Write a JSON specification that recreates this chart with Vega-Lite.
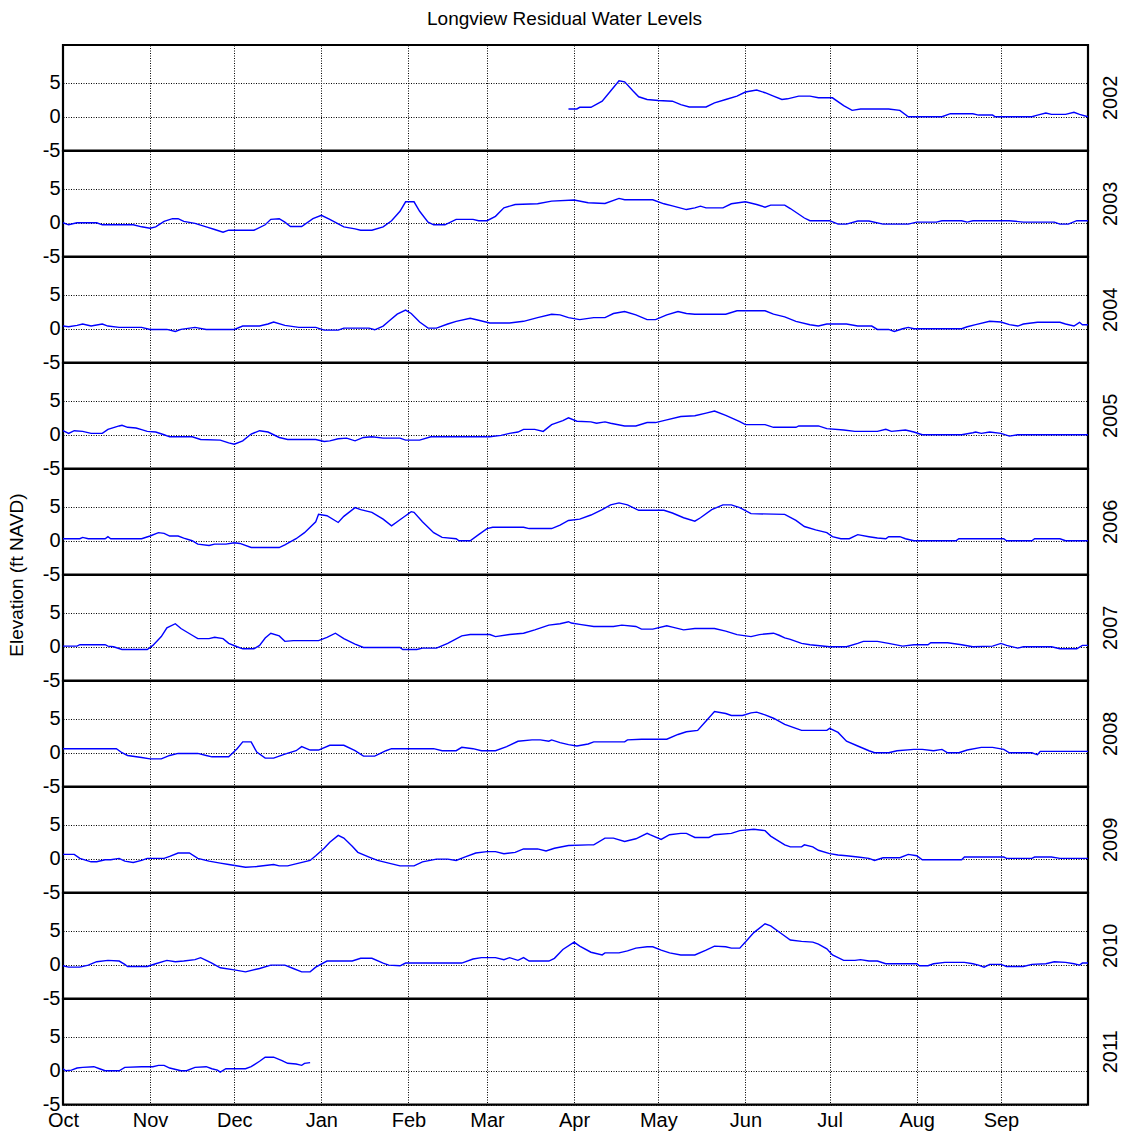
{
  "$schema": "https://vega.github.io/schema/vega-lite/v6.json",
  "background": "white",
  "padding": {"left": 7, "top": 9, "right": 2, "bottom": 2},
  "title": {"text": "Longview Residual Water Levels", "font": "Liberation Sans", "fontSize": 19, "fontWeight": "normal", "color": "black", "anchor": "middle", "offset": 15},
  "data": {"values": [
{"year":"2002","day":180,"value":1.15},{"year":"2002","day":183,"value":1.15},{"year":"2002","day":184,"value":1.4},{"year":"2002","day":188,"value":1.4},{"year":"2002","day":192,"value":2.3},{"year":"2002","day":195,"value":3.8},{"year":"2002","day":198,"value":5.3},{"year":"2002","day":200,"value":5.15},{"year":"2002","day":203,"value":3.8},{"year":"2002","day":205,"value":2.95},{"year":"2002","day":208,"value":2.55},{"year":"2002","day":212,"value":2.4},{"year":"2002","day":217,"value":2.3},{"year":"2002","day":220,"value":1.8},{"year":"2002","day":223,"value":1.45},{"year":"2002","day":229,"value":1.45},{"year":"2002","day":232,"value":2.05},{"year":"2002","day":236,"value":2.55},{"year":"2002","day":240,"value":3.05},{"year":"2002","day":243,"value":3.65},{"year":"2002","day":247,"value":3.95},{"year":"2002","day":250,"value":3.55},{"year":"2002","day":253,"value":3.05},{"year":"2002","day":256,"value":2.55},{"year":"2002","day":258,"value":2.65},{"year":"2002","day":262,"value":3.05},{"year":"2002","day":266,"value":3.05},{"year":"2002","day":269,"value":2.8},{"year":"2002","day":274,"value":2.8},{"year":"2002","day":278,"value":1.65},{"year":"2002","day":281,"value":0.95},{"year":"2002","day":284,"value":1.15},{"year":"2002","day":294,"value":1.15},{"year":"2002","day":298,"value":0.95},{"year":"2002","day":301,"value":0},{"year":"2002","day":313,"value":0},{"year":"2002","day":316,"value":0.45},{"year":"2002","day":324,"value":0.45},{"year":"2002","day":326,"value":0.25},{"year":"2002","day":331,"value":0.25},{"year":"2002","day":332,"value":0},{"year":"2002","day":345,"value":0},{"year":"2002","day":347,"value":0.25},{"year":"2002","day":350,"value":0.55},{"year":"2002","day":352,"value":0.35},{"year":"2002","day":357,"value":0.35},{"year":"2002","day":360,"value":0.65},{"year":"2002","day":362,"value":0.35},{"year":"2002","day":365,"value":0},
{"year":"2003","day":0,"value":0},{"year":"2003","day":2,"value":-0.3},{"year":"2003","day":5,"value":0},{"year":"2003","day":12,"value":0},{"year":"2003","day":14,"value":-0.3},{"year":"2003","day":25,"value":-0.3},{"year":"2003","day":28,"value":-0.6},{"year":"2003","day":31,"value":-0.8},{"year":"2003","day":33,"value":-0.6},{"year":"2003","day":36,"value":0.2},{"year":"2003","day":39,"value":0.6},{"year":"2003","day":41,"value":0.6},{"year":"2003","day":43,"value":0.2},{"year":"2003","day":47,"value":-0.1},{"year":"2003","day":51,"value":-0.6},{"year":"2003","day":54,"value":-1.0},{"year":"2003","day":57,"value":-1.4},{"year":"2003","day":59,"value":-1.1},{"year":"2003","day":68,"value":-1.1},{"year":"2003","day":72,"value":-0.3},{"year":"2003","day":74,"value":0.5},{"year":"2003","day":77,"value":0.6},{"year":"2003","day":79,"value":0.1},{"year":"2003","day":81,"value":-0.55},{"year":"2003","day":85,"value":-0.55},{"year":"2003","day":89,"value":0.6},{"year":"2003","day":92,"value":1.1},{"year":"2003","day":95,"value":0.5},{"year":"2003","day":100,"value":-0.6},{"year":"2003","day":104,"value":-0.9},{"year":"2003","day":106,"value":-1.1},{"year":"2003","day":110,"value":-1.1},{"year":"2003","day":114,"value":-0.6},{"year":"2003","day":117,"value":0.3},{"year":"2003","day":120,"value":1.7},{"year":"2003","day":122,"value":3.1},{"year":"2003","day":125,"value":3.1},{"year":"2003","day":127,"value":1.7},{"year":"2003","day":130,"value":0.1},{"year":"2003","day":132,"value":-0.3},{"year":"2003","day":136,"value":-0.3},{"year":"2003","day":140,"value":0.5},{"year":"2003","day":146,"value":0.5},{"year":"2003","day":148,"value":0.3},{"year":"2003","day":151,"value":0.3},{"year":"2003","day":154,"value":0.95},{"year":"2003","day":157,"value":2.2},{"year":"2003","day":161,"value":2.7},{"year":"2003","day":169,"value":2.8},{"year":"2003","day":174,"value":3.2},{"year":"2003","day":182,"value":3.35},{"year":"2003","day":187,"value":2.95},{"year":"2003","day":193,"value":2.85},{"year":"2003","day":198,"value":3.6},{"year":"2003","day":200,"value":3.4},{"year":"2003","day":210,"value":3.4},{"year":"2003","day":214,"value":2.8},{"year":"2003","day":217,"value":2.5},{"year":"2003","day":222,"value":1.95},{"year":"2003","day":225,"value":2.2},{"year":"2003","day":227,"value":2.45},{"year":"2003","day":229,"value":2.2},{"year":"2003","day":235,"value":2.2},{"year":"2003","day":238,"value":2.8},{"year":"2003","day":243,"value":3.1},{"year":"2003","day":247,"value":2.7},{"year":"2003","day":250,"value":2.3},{"year":"2003","day":252,"value":2.6},{"year":"2003","day":257,"value":2.6},{"year":"2003","day":259,"value":2.1},{"year":"2003","day":264,"value":0.7},{"year":"2003","day":266,"value":0.3},{"year":"2003","day":273,"value":0.3},{"year":"2003","day":276,"value":-0.2},{"year":"2003","day":279,"value":-0.2},{"year":"2003","day":283,"value":0.25},{"year":"2003","day":287,"value":0.25},{"year":"2003","day":292,"value":-0.2},{"year":"2003","day":301,"value":-0.2},{"year":"2003","day":304,"value":0.1},{"year":"2003","day":311,"value":0.1},{"year":"2003","day":313,"value":0.3},{"year":"2003","day":320,"value":0.3},{"year":"2003","day":322,"value":0.1},{"year":"2003","day":324,"value":0.3},{"year":"2003","day":337,"value":0.3},{"year":"2003","day":342,"value":0.1},{"year":"2003","day":353,"value":0.1},{"year":"2003","day":355,"value":-0.2},{"year":"2003","day":358,"value":-0.2},{"year":"2003","day":361,"value":0.3},{"year":"2003","day":365,"value":0.3},
{"year":"2004","day":0,"value":0.4},{"year":"2004","day":2,"value":0.3},{"year":"2004","day":5,"value":0.5},{"year":"2004","day":7,"value":0.7},{"year":"2004","day":10,"value":0.4},{"year":"2004","day":14,"value":0.7},{"year":"2004","day":16,"value":0.4},{"year":"2004","day":20,"value":0.2},{"year":"2004","day":28,"value":0.2},{"year":"2004","day":31,"value":-0.1},{"year":"2004","day":37,"value":-0.1},{"year":"2004","day":40,"value":-0.4},{"year":"2004","day":42,"value":-0.1},{"year":"2004","day":47,"value":0.2},{"year":"2004","day":51,"value":-0.1},{"year":"2004","day":61,"value":-0.1},{"year":"2004","day":64,"value":0.4},{"year":"2004","day":70,"value":0.4},{"year":"2004","day":73,"value":0.7},{"year":"2004","day":75,"value":1.0},{"year":"2004","day":79,"value":0.5},{"year":"2004","day":84,"value":0.2},{"year":"2004","day":90,"value":0.2},{"year":"2004","day":93,"value":-0.2},{"year":"2004","day":98,"value":-0.2},{"year":"2004","day":100,"value":0.1},{"year":"2004","day":109,"value":0.1},{"year":"2004","day":111,"value":-0.15},{"year":"2004","day":114,"value":0.4},{"year":"2004","day":116,"value":1.1},{"year":"2004","day":119,"value":2.15},{"year":"2004","day":122,"value":2.75},{"year":"2004","day":124,"value":2.25},{"year":"2004","day":127,"value":1.0},{"year":"2004","day":130,"value":0.1},{"year":"2004","day":133,"value":0.1},{"year":"2004","day":137,"value":0.7},{"year":"2004","day":140,"value":1.1},{"year":"2004","day":145,"value":1.55},{"year":"2004","day":148,"value":1.25},{"year":"2004","day":152,"value":0.85},{"year":"2004","day":159,"value":0.85},{"year":"2004","day":164,"value":1.1},{"year":"2004","day":169,"value":1.65},{"year":"2004","day":174,"value":2.15},{"year":"2004","day":177,"value":2.05},{"year":"2004","day":180,"value":1.65},{"year":"2004","day":184,"value":1.35},{"year":"2004","day":189,"value":1.65},{"year":"2004","day":193,"value":1.65},{"year":"2004","day":196,"value":2.25},{"year":"2004","day":200,"value":2.55},{"year":"2004","day":204,"value":2.05},{"year":"2004","day":208,"value":1.35},{"year":"2004","day":211,"value":1.35},{"year":"2004","day":215,"value":2.05},{"year":"2004","day":219,"value":2.55},{"year":"2004","day":222,"value":2.25},{"year":"2004","day":225,"value":2.15},{"year":"2004","day":236,"value":2.15},{"year":"2004","day":240,"value":2.65},{"year":"2004","day":250,"value":2.65},{"year":"2004","day":253,"value":2.15},{"year":"2004","day":257,"value":1.75},{"year":"2004","day":261,"value":1.1},{"year":"2004","day":266,"value":0.6},{"year":"2004","day":269,"value":0.4},{"year":"2004","day":272,"value":0.7},{"year":"2004","day":279,"value":0.7},{"year":"2004","day":283,"value":0.4},{"year":"2004","day":288,"value":0.4},{"year":"2004","day":290,"value":-0.1},{"year":"2004","day":294,"value":-0.1},{"year":"2004","day":296,"value":-0.4},{"year":"2004","day":299,"value":0},{"year":"2004","day":301,"value":0.2},{"year":"2004","day":303,"value":0},{"year":"2004","day":320,"value":0},{"year":"2004","day":322,"value":0.3},{"year":"2004","day":325,"value":0.6},{"year":"2004","day":330,"value":1.1},{"year":"2004","day":334,"value":1.0},{"year":"2004","day":337,"value":0.6},{"year":"2004","day":340,"value":0.4},{"year":"2004","day":342,"value":0.7},{"year":"2004","day":347,"value":0.95},{"year":"2004","day":355,"value":0.95},{"year":"2004","day":357,"value":0.7},{"year":"2004","day":360,"value":0.4},{"year":"2004","day":362,"value":0.95},{"year":"2004","day":363,"value":0.6},{"year":"2004","day":365,"value":0.6},
{"year":"2005","day":0,"value":0.6},{"year":"2005","day":2,"value":0.2},{"year":"2005","day":4,"value":0.6},{"year":"2005","day":7,"value":0.5},{"year":"2005","day":10,"value":0.2},{"year":"2005","day":14,"value":0.2},{"year":"2005","day":16,"value":0.8},{"year":"2005","day":20,"value":1.3},{"year":"2005","day":21,"value":1.4},{"year":"2005","day":23,"value":1.1},{"year":"2005","day":26,"value":1.0},{"year":"2005","day":28,"value":0.75},{"year":"2005","day":30,"value":0.5},{"year":"2005","day":33,"value":0.4},{"year":"2005","day":36,"value":0},{"year":"2005","day":38,"value":-0.3},{"year":"2005","day":46,"value":-0.3},{"year":"2005","day":49,"value":-0.7},{"year":"2005","day":56,"value":-0.8},{"year":"2005","day":59,"value":-1.2},{"year":"2005","day":61,"value":-1.4},{"year":"2005","day":64,"value":-0.9},{"year":"2005","day":67,"value":0.1},{"year":"2005","day":70,"value":0.6},{"year":"2005","day":73,"value":0.4},{"year":"2005","day":77,"value":-0.4},{"year":"2005","day":80,"value":-0.7},{"year":"2005","day":90,"value":-0.7},{"year":"2005","day":93,"value":-1.0},{"year":"2005","day":95,"value":-0.9},{"year":"2005","day":98,"value":-0.6},{"year":"2005","day":101,"value":-0.5},{"year":"2005","day":104,"value":-0.9},{"year":"2005","day":107,"value":-0.4},{"year":"2005","day":110,"value":-0.3},{"year":"2005","day":114,"value":-0.5},{"year":"2005","day":120,"value":-0.5},{"year":"2005","day":122,"value":-0.8},{"year":"2005","day":127,"value":-0.8},{"year":"2005","day":131,"value":-0.3},{"year":"2005","day":152,"value":-0.3},{"year":"2005","day":156,"value":-0.1},{"year":"2005","day":159,"value":0.2},{"year":"2005","day":162,"value":0.4},{"year":"2005","day":164,"value":0.8},{"year":"2005","day":168,"value":0.8},{"year":"2005","day":171,"value":0.5},{"year":"2005","day":174,"value":1.5},{"year":"2005","day":178,"value":2.1},{"year":"2005","day":180,"value":2.5},{"year":"2005","day":183,"value":2.0},{"year":"2005","day":188,"value":1.9},{"year":"2005","day":190,"value":1.7},{"year":"2005","day":193,"value":1.9},{"year":"2005","day":195,"value":1.7},{"year":"2005","day":200,"value":1.3},{"year":"2005","day":204,"value":1.3},{"year":"2005","day":208,"value":1.8},{"year":"2005","day":211,"value":1.8},{"year":"2005","day":215,"value":2.2},{"year":"2005","day":220,"value":2.7},{"year":"2005","day":225,"value":2.8},{"year":"2005","day":229,"value":3.2},{"year":"2005","day":232,"value":3.5},{"year":"2005","day":236,"value":2.85},{"year":"2005","day":241,"value":1.95},{"year":"2005","day":243,"value":1.5},{"year":"2005","day":250,"value":1.5},{"year":"2005","day":253,"value":1.1},{"year":"2005","day":261,"value":1.1},{"year":"2005","day":262,"value":1.3},{"year":"2005","day":269,"value":1.3},{"year":"2005","day":272,"value":0.9},{"year":"2005","day":278,"value":0.7},{"year":"2005","day":282,"value":0.5},{"year":"2005","day":290,"value":0.5},{"year":"2005","day":293,"value":0.8},{"year":"2005","day":295,"value":0.5},{"year":"2005","day":300,"value":0.7},{"year":"2005","day":303,"value":0.4},{"year":"2005","day":306,"value":0},{"year":"2005","day":320,"value":0},{"year":"2005","day":324,"value":0.3},{"year":"2005","day":325,"value":0.4},{"year":"2005","day":327,"value":0.2},{"year":"2005","day":330,"value":0.4},{"year":"2005","day":334,"value":0.2},{"year":"2005","day":337,"value":-0.2},{"year":"2005","day":340,"value":0},{"year":"2005","day":365,"value":0},
{"year":"2006","day":0,"value":0.3},{"year":"2006","day":6,"value":0.3},{"year":"2006","day":7,"value":0.5},{"year":"2006","day":9,"value":0.3},{"year":"2006","day":15,"value":0.3},{"year":"2006","day":16,"value":0.6},{"year":"2006","day":17,"value":0.3},{"year":"2006","day":28,"value":0.3},{"year":"2006","day":31,"value":0.7},{"year":"2006","day":34,"value":1.2},{"year":"2006","day":36,"value":1.1},{"year":"2006","day":38,"value":0.7},{"year":"2006","day":41,"value":0.7},{"year":"2006","day":43,"value":0.4},{"year":"2006","day":46,"value":0},{"year":"2006","day":48,"value":-0.5},{"year":"2006","day":52,"value":-0.7},{"year":"2006","day":54,"value":-0.5},{"year":"2006","day":58,"value":-0.5},{"year":"2006","day":61,"value":-0.3},{"year":"2006","day":63,"value":-0.4},{"year":"2006","day":67,"value":-1.0},{"year":"2006","day":77,"value":-1.0},{"year":"2006","day":79,"value":-0.6},{"year":"2006","day":83,"value":0.3},{"year":"2006","day":86,"value":1.2},{"year":"2006","day":90,"value":2.8},{"year":"2006","day":91,"value":3.9},{"year":"2006","day":94,"value":3.7},{"year":"2006","day":98,"value":2.7},{"year":"2006","day":100,"value":3.6},{"year":"2006","day":104,"value":4.9},{"year":"2006","day":106,"value":4.6},{"year":"2006","day":110,"value":4.2},{"year":"2006","day":114,"value":3.2},{"year":"2006","day":117,"value":2.2},{"year":"2006","day":120,"value":3.1},{"year":"2006","day":124,"value":4.3},{"year":"2006","day":125,"value":4.2},{"year":"2006","day":128,"value":2.8},{"year":"2006","day":132,"value":1.2},{"year":"2006","day":135,"value":0.5},{"year":"2006","day":140,"value":0.3},{"year":"2006","day":141,"value":0},{"year":"2006","day":145,"value":0},{"year":"2006","day":148,"value":0.9},{"year":"2006","day":151,"value":1.8},{"year":"2006","day":153,"value":2.0},{"year":"2006","day":164,"value":2.0},{"year":"2006","day":166,"value":1.8},{"year":"2006","day":174,"value":1.8},{"year":"2006","day":177,"value":2.3},{"year":"2006","day":180,"value":3.0},{"year":"2006","day":184,"value":3.2},{"year":"2006","day":188,"value":3.8},{"year":"2006","day":192,"value":4.6},{"year":"2006","day":195,"value":5.3},{"year":"2006","day":198,"value":5.6},{"year":"2006","day":201,"value":5.3},{"year":"2006","day":205,"value":4.5},{"year":"2006","day":214,"value":4.5},{"year":"2006","day":217,"value":4.1},{"year":"2006","day":221,"value":3.4},{"year":"2006","day":225,"value":2.9},{"year":"2006","day":227,"value":3.4},{"year":"2006","day":231,"value":4.6},{"year":"2006","day":235,"value":5.3},{"year":"2006","day":238,"value":5.3},{"year":"2006","day":241,"value":4.9},{"year":"2006","day":245,"value":4.0},{"year":"2006","day":257,"value":3.9},{"year":"2006","day":261,"value":3.0},{"year":"2006","day":264,"value":2.1},{"year":"2006","day":268,"value":1.6},{"year":"2006","day":272,"value":1.2},{"year":"2006","day":274,"value":0.6},{"year":"2006","day":277,"value":0.3},{"year":"2006","day":280,"value":0.3},{"year":"2006","day":283,"value":0.9},{"year":"2006","day":287,"value":0.6},{"year":"2006","day":290,"value":0.4},{"year":"2006","day":293,"value":0.3},{"year":"2006","day":294,"value":0.6},{"year":"2006","day":298,"value":0.6},{"year":"2006","day":300,"value":0.3},{"year":"2006","day":303,"value":0},{"year":"2006","day":318,"value":0},{"year":"2006","day":319,"value":0.3},{"year":"2006","day":335,"value":0.3},{"year":"2006","day":336,"value":0},{"year":"2006","day":345,"value":0},{"year":"2006","day":346,"value":0.3},{"year":"2006","day":355,"value":0.3},{"year":"2006","day":357,"value":0},{"year":"2006","day":365,"value":0},
{"year":"2007","day":0,"value":0.1},{"year":"2007","day":5,"value":0.1},{"year":"2007","day":6,"value":0.3},{"year":"2007","day":15,"value":0.3},{"year":"2007","day":16,"value":0.1},{"year":"2007","day":18,"value":0},{"year":"2007","day":21,"value":-0.4},{"year":"2007","day":30,"value":-0.4},{"year":"2007","day":32,"value":0.2},{"year":"2007","day":35,"value":1.5},{"year":"2007","day":37,"value":2.8},{"year":"2007","day":40,"value":3.4},{"year":"2007","day":42,"value":2.7},{"year":"2007","day":46,"value":1.7},{"year":"2007","day":48,"value":1.2},{"year":"2007","day":52,"value":1.2},{"year":"2007","day":54,"value":1.4},{"year":"2007","day":57,"value":1.2},{"year":"2007","day":59,"value":0.5},{"year":"2007","day":62,"value":0},{"year":"2007","day":64,"value":-0.3},{"year":"2007","day":68,"value":-0.3},{"year":"2007","day":70,"value":0.2},{"year":"2007","day":72,"value":1.3},{"year":"2007","day":74,"value":2.0},{"year":"2007","day":77,"value":1.6},{"year":"2007","day":79,"value":0.8},{"year":"2007","day":82,"value":0.9},{"year":"2007","day":91,"value":0.9},{"year":"2007","day":94,"value":1.4},{"year":"2007","day":97,"value":2.0},{"year":"2007","day":100,"value":1.2},{"year":"2007","day":104,"value":0.4},{"year":"2007","day":107,"value":-0.1},{"year":"2007","day":120,"value":-0.1},{"year":"2007","day":121,"value":-0.4},{"year":"2007","day":126,"value":-0.4},{"year":"2007","day":128,"value":-0.2},{"year":"2007","day":133,"value":-0.2},{"year":"2007","day":137,"value":0.5},{"year":"2007","day":142,"value":1.6},{"year":"2007","day":145,"value":1.8},{"year":"2007","day":152,"value":1.8},{"year":"2007","day":154,"value":1.5},{"year":"2007","day":159,"value":1.8},{"year":"2007","day":164,"value":2.0},{"year":"2007","day":168,"value":2.5},{"year":"2007","day":173,"value":3.2},{"year":"2007","day":177,"value":3.4},{"year":"2007","day":180,"value":3.7},{"year":"2007","day":181,"value":3.5},{"year":"2007","day":184,"value":3.3},{"year":"2007","day":189,"value":3.0},{"year":"2007","day":196,"value":3.0},{"year":"2007","day":199,"value":3.2},{"year":"2007","day":204,"value":3.0},{"year":"2007","day":206,"value":2.6},{"year":"2007","day":210,"value":2.6},{"year":"2007","day":215,"value":3.1},{"year":"2007","day":217,"value":2.9},{"year":"2007","day":221,"value":2.5},{"year":"2007","day":225,"value":2.7},{"year":"2007","day":232,"value":2.7},{"year":"2007","day":236,"value":2.3},{"year":"2007","day":240,"value":1.8},{"year":"2007","day":245,"value":1.5},{"year":"2007","day":248,"value":1.8},{"year":"2007","day":253,"value":2.0},{"year":"2007","day":255,"value":1.7},{"year":"2007","day":257,"value":1.3},{"year":"2007","day":259,"value":1.1},{"year":"2007","day":263,"value":0.5},{"year":"2007","day":266,"value":0.3},{"year":"2007","day":273,"value":0},{"year":"2007","day":279,"value":0},{"year":"2007","day":283,"value":0.5},{"year":"2007","day":285,"value":0.8},{"year":"2007","day":290,"value":0.8},{"year":"2007","day":294,"value":0.5},{"year":"2007","day":299,"value":0.1},{"year":"2007","day":303,"value":0.3},{"year":"2007","day":308,"value":0.3},{"year":"2007","day":309,"value":0.6},{"year":"2007","day":315,"value":0.6},{"year":"2007","day":320,"value":0.3},{"year":"2007","day":324,"value":0},{"year":"2007","day":331,"value":0.1},{"year":"2007","day":334,"value":0.5},{"year":"2007","day":336,"value":0.2},{"year":"2007","day":340,"value":-0.2},{"year":"2007","day":342,"value":0},{"year":"2007","day":352,"value":0},{"year":"2007","day":355,"value":-0.3},{"year":"2007","day":361,"value":-0.3},{"year":"2007","day":363,"value":0.2},{"year":"2007","day":365,"value":0.2},
{"year":"2008","day":0,"value":0.6},{"year":"2008","day":19,"value":0.6},{"year":"2008","day":21,"value":0},{"year":"2008","day":23,"value":-0.4},{"year":"2008","day":28,"value":-0.7},{"year":"2008","day":31,"value":-0.9},{"year":"2008","day":35,"value":-0.9},{"year":"2008","day":38,"value":-0.4},{"year":"2008","day":41,"value":-0.1},{"year":"2008","day":48,"value":-0.1},{"year":"2008","day":51,"value":-0.4},{"year":"2008","day":53,"value":-0.6},{"year":"2008","day":59,"value":-0.6},{"year":"2008","day":62,"value":0.6},{"year":"2008","day":64,"value":1.6},{"year":"2008","day":67,"value":1.6},{"year":"2008","day":69,"value":0.1},{"year":"2008","day":72,"value":-0.8},{"year":"2008","day":75,"value":-0.8},{"year":"2008","day":79,"value":-0.2},{"year":"2008","day":83,"value":0.3},{"year":"2008","day":85,"value":0.9},{"year":"2008","day":88,"value":0.4},{"year":"2008","day":91,"value":0.4},{"year":"2008","day":95,"value":1.1},{"year":"2008","day":100,"value":1.1},{"year":"2008","day":104,"value":0.3},{"year":"2008","day":107,"value":-0.5},{"year":"2008","day":111,"value":-0.5},{"year":"2008","day":115,"value":0.3},{"year":"2008","day":117,"value":0.6},{"year":"2008","day":132,"value":0.6},{"year":"2008","day":135,"value":0.3},{"year":"2008","day":140,"value":0.3},{"year":"2008","day":142,"value":0.8},{"year":"2008","day":146,"value":0.6},{"year":"2008","day":149,"value":0.3},{"year":"2008","day":154,"value":0.3},{"year":"2008","day":158,"value":0.9},{"year":"2008","day":162,"value":1.7},{"year":"2008","day":167,"value":1.9},{"year":"2008","day":170,"value":1.9},{"year":"2008","day":173,"value":1.7},{"year":"2008","day":174,"value":1.9},{"year":"2008","day":177,"value":1.5},{"year":"2008","day":180,"value":1.2},{"year":"2008","day":183,"value":1.0},{"year":"2008","day":187,"value":1.3},{"year":"2008","day":189,"value":1.6},{"year":"2008","day":200,"value":1.6},{"year":"2008","day":201,"value":1.9},{"year":"2008","day":206,"value":2.0},{"year":"2008","day":215,"value":2.0},{"year":"2008","day":219,"value":2.7},{"year":"2008","day":222,"value":3.1},{"year":"2008","day":226,"value":3.3},{"year":"2008","day":229,"value":4.7},{"year":"2008","day":232,"value":6.1},{"year":"2008","day":236,"value":5.8},{"year":"2008","day":238,"value":5.5},{"year":"2008","day":242,"value":5.5},{"year":"2008","day":245,"value":5.9},{"year":"2008","day":247,"value":6.0},{"year":"2008","day":250,"value":5.6},{"year":"2008","day":253,"value":5.1},{"year":"2008","day":257,"value":4.2},{"year":"2008","day":261,"value":3.6},{"year":"2008","day":263,"value":3.3},{"year":"2008","day":272,"value":3.3},{"year":"2008","day":273,"value":3.6},{"year":"2008","day":276,"value":3.0},{"year":"2008","day":279,"value":1.7},{"year":"2008","day":283,"value":1.0},{"year":"2008","day":287,"value":0.3},{"year":"2008","day":289,"value":0},{"year":"2008","day":294,"value":0},{"year":"2008","day":297,"value":0.3},{"year":"2008","day":303,"value":0.5},{"year":"2008","day":306,"value":0.5},{"year":"2008","day":310,"value":0.3},{"year":"2008","day":313,"value":0.5},{"year":"2008","day":315,"value":0},{"year":"2008","day":319,"value":0},{"year":"2008","day":322,"value":0.4},{"year":"2008","day":327,"value":0.8},{"year":"2008","day":331,"value":0.8},{"year":"2008","day":335,"value":0.5},{"year":"2008","day":337,"value":0},{"year":"2008","day":345,"value":0},{"year":"2008","day":347,"value":-0.3},{"year":"2008","day":348,"value":0.2},{"year":"2008","day":365,"value":0.2},
{"year":"2009","day":0,"value":0.65},{"year":"2009","day":4,"value":0.65},{"year":"2009","day":6,"value":0.05},{"year":"2009","day":10,"value":-0.45},{"year":"2009","day":12,"value":-0.45},{"year":"2009","day":15,"value":-0.15},{"year":"2009","day":17,"value":-0.15},{"year":"2009","day":20,"value":0.05},{"year":"2009","day":22,"value":-0.35},{"year":"2009","day":25,"value":-0.55},{"year":"2009","day":28,"value":-0.25},{"year":"2009","day":30,"value":0.05},{"year":"2009","day":36,"value":0.05},{"year":"2009","day":38,"value":0.35},{"year":"2009","day":41,"value":0.85},{"year":"2009","day":45,"value":0.85},{"year":"2009","day":48,"value":0.05},{"year":"2009","day":52,"value":-0.35},{"year":"2009","day":56,"value":-0.65},{"year":"2009","day":59,"value":-0.85},{"year":"2009","day":65,"value":-1.25},{"year":"2009","day":69,"value":-1.15},{"year":"2009","day":75,"value":-0.85},{"year":"2009","day":77,"value":-1.05},{"year":"2009","day":80,"value":-1.05},{"year":"2009","day":84,"value":-0.65},{"year":"2009","day":88,"value":-0.25},{"year":"2009","day":90,"value":0.45},{"year":"2009","day":93,"value":1.55},{"year":"2009","day":95,"value":2.45},{"year":"2009","day":98,"value":3.45},{"year":"2009","day":100,"value":3.05},{"year":"2009","day":103,"value":1.85},{"year":"2009","day":105,"value":0.95},{"year":"2009","day":109,"value":0.25},{"year":"2009","day":112,"value":-0.25},{"year":"2009","day":116,"value":-0.65},{"year":"2009","day":120,"value":-1.05},{"year":"2009","day":125,"value":-1.05},{"year":"2009","day":128,"value":-0.45},{"year":"2009","day":133,"value":-0.05},{"year":"2009","day":137,"value":-0.05},{"year":"2009","day":140,"value":-0.25},{"year":"2009","day":143,"value":0.25},{"year":"2009","day":147,"value":0.85},{"year":"2009","day":151,"value":1.05},{"year":"2009","day":154,"value":1.05},{"year":"2009","day":157,"value":0.75},{"year":"2009","day":161,"value":0.95},{"year":"2009","day":164,"value":1.45},{"year":"2009","day":169,"value":1.45},{"year":"2009","day":172,"value":1.15},{"year":"2009","day":175,"value":1.55},{"year":"2009","day":180,"value":1.95},{"year":"2009","day":187,"value":2.05},{"year":"2009","day":189,"value":2.05},{"year":"2009","day":193,"value":3.05},{"year":"2009","day":196,"value":3.05},{"year":"2009","day":200,"value":2.55},{"year":"2009","day":204,"value":2.95},{"year":"2009","day":208,"value":3.75},{"year":"2009","day":209,"value":3.55},{"year":"2009","day":213,"value":2.85},{"year":"2009","day":216,"value":3.55},{"year":"2009","day":220,"value":3.75},{"year":"2009","day":222,"value":3.75},{"year":"2009","day":225,"value":3.15},{"year":"2009","day":230,"value":3.15},{"year":"2009","day":232,"value":3.55},{"year":"2009","day":238,"value":3.75},{"year":"2009","day":241,"value":4.15},{"year":"2009","day":246,"value":4.35},{"year":"2009","day":250,"value":4.15},{"year":"2009","day":252,"value":3.35},{"year":"2009","day":257,"value":2.05},{"year":"2009","day":259,"value":1.75},{"year":"2009","day":263,"value":1.75},{"year":"2009","day":264,"value":2.05},{"year":"2009","day":267,"value":1.75},{"year":"2009","day":269,"value":1.25},{"year":"2009","day":273,"value":0.75},{"year":"2009","day":276,"value":0.55},{"year":"2009","day":279,"value":0.45},{"year":"2009","day":283,"value":0.25},{"year":"2009","day":287,"value":0.05},{"year":"2009","day":289,"value":-0.25},{"year":"2009","day":292,"value":0.15},{"year":"2009","day":298,"value":0.15},{"year":"2009","day":301,"value":0.65},{"year":"2009","day":304,"value":0.45},{"year":"2009","day":306,"value":-0.15},{"year":"2009","day":320,"value":-0.15},{"year":"2009","day":321,"value":0.25},{"year":"2009","day":335,"value":0.25},{"year":"2009","day":336,"value":0.05},{"year":"2009","day":345,"value":0.05},{"year":"2009","day":346,"value":0.25},{"year":"2009","day":352,"value":0.25},{"year":"2009","day":355,"value":0.05},{"year":"2009","day":365,"value":0.05},
{"year":"2010","day":0,"value":-0.15},{"year":"2010","day":2,"value":-0.35},{"year":"2010","day":6,"value":-0.35},{"year":"2010","day":9,"value":-0.05},{"year":"2010","day":12,"value":0.45},{"year":"2010","day":16,"value":0.65},{"year":"2010","day":20,"value":0.55},{"year":"2010","day":22,"value":0.05},{"year":"2010","day":23,"value":-0.25},{"year":"2010","day":30,"value":-0.25},{"year":"2010","day":33,"value":0.15},{"year":"2010","day":37,"value":0.65},{"year":"2010","day":40,"value":0.45},{"year":"2010","day":43,"value":0.55},{"year":"2010","day":47,"value":0.75},{"year":"2010","day":49,"value":1.05},{"year":"2010","day":51,"value":0.65},{"year":"2010","day":53,"value":0.25},{"year":"2010","day":56,"value":-0.45},{"year":"2010","day":61,"value":-0.75},{"year":"2010","day":65,"value":-1.05},{"year":"2010","day":70,"value":-0.55},{"year":"2010","day":74,"value":-0.05},{"year":"2010","day":79,"value":-0.05},{"year":"2010","day":82,"value":-0.55},{"year":"2010","day":85,"value":-1.05},{"year":"2010","day":88,"value":-1.05},{"year":"2010","day":90,"value":-0.35},{"year":"2010","day":94,"value":0.55},{"year":"2010","day":103,"value":0.55},{"year":"2010","day":106,"value":0.95},{"year":"2010","day":110,"value":0.95},{"year":"2010","day":114,"value":0.25},{"year":"2010","day":116,"value":-0.05},{"year":"2010","day":120,"value":-0.15},{"year":"2010","day":122,"value":0.25},{"year":"2010","day":142,"value":0.25},{"year":"2010","day":146,"value":0.85},{"year":"2010","day":149,"value":1.05},{"year":"2010","day":154,"value":1.05},{"year":"2010","day":157,"value":0.75},{"year":"2010","day":159,"value":1.05},{"year":"2010","day":162,"value":0.65},{"year":"2010","day":164,"value":1.05},{"year":"2010","day":166,"value":0.55},{"year":"2010","day":173,"value":0.55},{"year":"2010","day":175,"value":0.95},{"year":"2010","day":178,"value":2.25},{"year":"2010","day":182,"value":3.35},{"year":"2010","day":184,"value":2.75},{"year":"2010","day":188,"value":1.85},{"year":"2010","day":192,"value":1.45},{"year":"2010","day":193,"value":1.75},{"year":"2010","day":198,"value":1.75},{"year":"2010","day":201,"value":2.05},{"year":"2010","day":204,"value":2.45},{"year":"2010","day":208,"value":2.65},{"year":"2010","day":210,"value":2.65},{"year":"2010","day":213,"value":2.15},{"year":"2010","day":216,"value":1.75},{"year":"2010","day":220,"value":1.45},{"year":"2010","day":225,"value":1.45},{"year":"2010","day":229,"value":2.15},{"year":"2010","day":232,"value":2.75},{"year":"2010","day":236,"value":2.65},{"year":"2010","day":238,"value":2.45},{"year":"2010","day":241,"value":2.45},{"year":"2010","day":243,"value":3.35},{"year":"2010","day":246,"value":4.75},{"year":"2010","day":250,"value":6.05},{"year":"2010","day":252,"value":5.75},{"year":"2010","day":256,"value":4.55},{"year":"2010","day":259,"value":3.65},{"year":"2010","day":263,"value":3.45},{"year":"2010","day":267,"value":3.35},{"year":"2010","day":269,"value":3.05},{"year":"2010","day":272,"value":2.35},{"year":"2010","day":274,"value":1.45},{"year":"2010","day":278,"value":0.65},{"year":"2010","day":282,"value":0.65},{"year":"2010","day":284,"value":0.75},{"year":"2010","day":287,"value":0.55},{"year":"2010","day":290,"value":0.55},{"year":"2010","day":293,"value":0.15},{"year":"2010","day":304,"value":0.15},{"year":"2010","day":305,"value":-0.15},{"year":"2010","day":308,"value":-0.15},{"year":"2010","day":310,"value":0.15},{"year":"2010","day":314,"value":0.35},{"year":"2010","day":321,"value":0.35},{"year":"2010","day":324,"value":0.15},{"year":"2010","day":326,"value":-0.05},{"year":"2010","day":328,"value":-0.35},{"year":"2010","day":330,"value":0.05},{"year":"2010","day":334,"value":0.05},{"year":"2010","day":336,"value":-0.25},{"year":"2010","day":342,"value":-0.25},{"year":"2010","day":345,"value":0.05},{"year":"2010","day":350,"value":0.15},{"year":"2010","day":353,"value":0.45},{"year":"2010","day":357,"value":0.35},{"year":"2010","day":360,"value":0.15},{"year":"2010","day":362,"value":-0.05},{"year":"2010","day":363,"value":0.25},{"year":"2010","day":365,"value":0.25},
{"year":"2011","day":0,"value":0.3},{"year":"2011","day":1,"value":0},{"year":"2011","day":3,"value":0.1},{"year":"2011","day":5,"value":0.4},{"year":"2011","day":7,"value":0.5},{"year":"2011","day":11,"value":0.6},{"year":"2011","day":13,"value":0.3},{"year":"2011","day":15,"value":0},{"year":"2011","day":20,"value":0},{"year":"2011","day":22,"value":0.5},{"year":"2011","day":28,"value":0.6},{"year":"2011","day":32,"value":0.6},{"year":"2011","day":34,"value":0.8},{"year":"2011","day":36,"value":0.8},{"year":"2011","day":38,"value":0.4},{"year":"2011","day":42,"value":0},{"year":"2011","day":44,"value":0},{"year":"2011","day":47,"value":0.5},{"year":"2011","day":51,"value":0.6},{"year":"2011","day":53,"value":0.3},{"year":"2011","day":55,"value":0.1},{"year":"2011","day":56,"value":-0.2},{"year":"2011","day":58,"value":0.3},{"year":"2011","day":65,"value":0.3},{"year":"2011","day":67,"value":0.6},{"year":"2011","day":70,"value":1.4},{"year":"2011","day":72,"value":2.0},{"year":"2011","day":75,"value":2.0},{"year":"2011","day":78,"value":1.5},{"year":"2011","day":80,"value":1.1},{"year":"2011","day":83,"value":1.0},{"year":"2011","day":85,"value":0.8},{"year":"2011","day":86,"value":1.1},{"year":"2011","day":88,"value":1.2}
  ]},
  "spacing": 0,
  "bounds": "flush",
  "facet": {
    "row": {
      "field": "year", "type": "nominal",
      "header": {
        "title": "Elevation (ft NAVD)", "titleOrient": "left", "titleAngle": -90, "titleFont": "Liberation Sans", "titleFontSize": 19, "titleFontWeight": "normal", "titleColor": "black", "titlePadding": -14,
        "labelOrient": "right", "labelAngle": -90, "labelFont": "Liberation Sans", "labelFontSize": 20, "labelColor": "black", "labelPadding": 3, "labelAlign": "center", "labelBaseline": "middle"
      }
    }
  },
  "spec": {
    "width": 1025,
    "height": 105.6,
    "mark": {"type": "line", "color": "#0000ff", "strokeWidth": 1.4, "interpolate": "linear"},
    "encoding": {
      "x": {
        "field": "day", "type": "quantitative",
        "scale": {"domain": [0, 365], "nice": false, "zero": false},
        "axis": {
          "title": null,
          "values": [0, 31, 61, 92, 123, 151, 182, 212, 243, 273, 304, 334],
          "labelExpr": "['Oct','Nov','Dec','Jan','Feb','Mar','Apr','May','Jun','Jul','Aug','Sep'][indexof([0,31,61,92,123,151,182,212,243,273,304,334], datum.value)]",
          "labelFlush": false,
          "labelOverlap": false,
          "labelFont": "Liberation Sans",
          "labelFontSize": 20,
          "labelColor": "black",
          "labelPadding": 5,
          "ticks": false,
          "domain": false,
          "grid": true,
          "gridColor": "black",
          "gridOpacity": 1,
          "gridDash": [1, 1.5],
          "gridWidth": 1
        }
      },
      "y": {
        "field": "value", "type": "quantitative",
        "scale": {"domain": [-5, 10.6], "nice": false, "zero": false},
        "axis": {
          "title": null,
          "values": [-5, 0, 5],
          "labelExpr": "datum.value < 0 ? '-' + abs(datum.value) : '' + datum.value",
          "labelFlush": false,
          "labelOverlap": false,
          "labelFont": "Liberation Sans",
          "labelFontSize": 20,
          "labelColor": "black",
          "labelPadding": 3,
          "ticks": false,
          "domain": false,
          "grid": true,
          "gridColor": "black",
          "gridOpacity": 1,
          "gridDash": [1, 1.5],
          "gridWidth": 1
        }
      }
    }
  },
  "config": {
    "view": {"stroke": "black", "strokeWidth": 2.2}
  }
}
